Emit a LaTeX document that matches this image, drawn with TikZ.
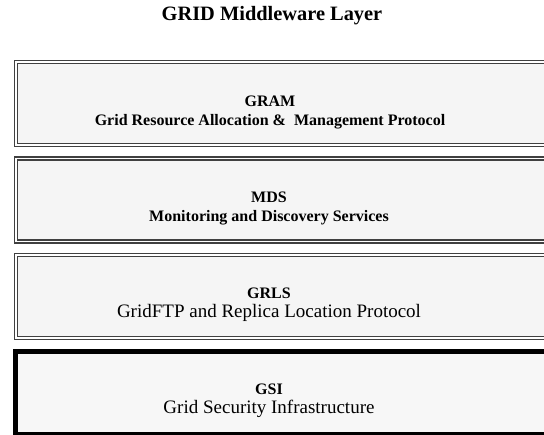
\documentclass[tikz,border=0pt]{standalone}
\usepackage{fontspec}
\setmainfont{Liberation Serif}
\usetikzlibrary{positioning}

\tikzset{
    layerbox/.style={draw=gray!50!black, double=white, double distance=0.75pt, line width=0.75pt,
        fill=gray!8, minimum width=275pt, minimum height=41.5pt, inner sep=0pt},
    basebox/.style={draw=black, line width=2.5pt, fill=gray!6,
        minimum width=275pt, minimum height=41.5pt, inner sep=0pt},
    layername/.style={align=center, font=\bfseries\fontsize{8}{9.5}\selectfont},
    layerplain/.style={align=center, font=\fontsize{9.5}{9.5}\selectfont},
}

\begin{document}
\begin{tikzpicture}[x=0.5pt, y=-0.5pt]
        \useasboundingbox (0,0) rectangle (544,434);

        \node[font=\bfseries\fontsize{10.2}{12}\selectfont] (title) at (272,16) {GRID Middleware Layer};

        % the four layers
        \node[layerbox, anchor=north west] (gram) at (15,61) {};
        \node[layerbox, below=6pt of gram] (mds) {};
        \node[layerbox, below=6pt of mds] (grls) {};
        \node[basebox, anchor=north west] (gsi) at (13,349) {};

        \node[layername] (gramtext) at (270,112) {GRAM\\Grid Resource Allocation \&\ \ Management Protocol};
        \node[layername] (mdstext) at (269,208) {MDS\\Monitoring and Discovery Services};
        \node[layerplain] (grlstext) at (269,305) {\textbf{\fontsize{8}{9.5}\selectfont GRLS}\\GridFTP and Replica Location Protocol};
        \node[layerplain] (gsitext) at (269,401) {\textbf{\fontsize{8}{9.5}\selectfont GSI}\\Grid Security Infrastructure};
\end{tikzpicture}
\end{document}
